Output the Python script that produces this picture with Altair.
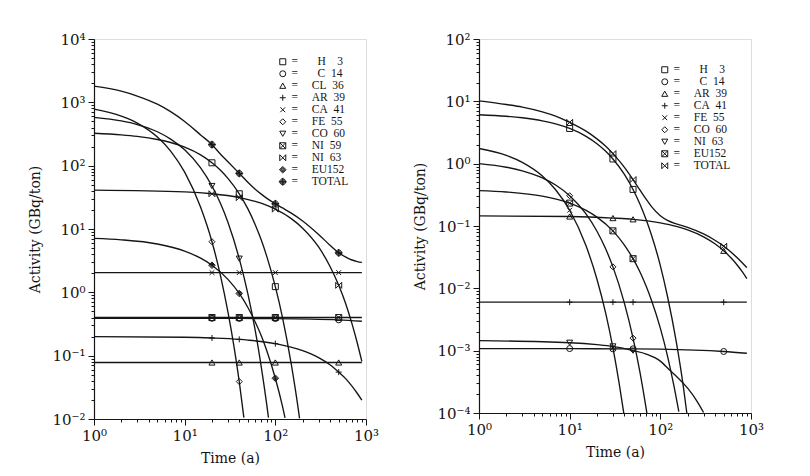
import altair as alt
import pandas as pd

FS = "\u2007"
TS = "\u2009"

# ---------------- shapes ----------------
PLUS = "M-1,0L1,0M0,-1L0,1"
CROSS = "M-0.8,-0.8L0.8,0.8M-0.8,0.8L0.8,-0.8"
BOXX = "M-1,-1L1,-1L1,1L-1,1ZM-1,-1L1,1M-1,1L1,-1"
BOWTIE = "M-1,-1L1,1M-1,1L1,-1M-1,-1L-1,1M1,-1L1,1"
DISC = ("M-1,0A1,1 0 1,0 1,0A1,1 0 1,0 -1,0Z"
        "M-0.7,0A0.7,0.7 0 1,0 0.7,0A0.7,0.7 0 1,0 -0.7,0Z"
        "M-0.4,0A0.4,0.4 0 1,0 0.4,0A0.4,0.4 0 1,0 -0.4,0Z"
        "M-0.12,0L0.12,0M-1.3,0L1.3,0M0,-1.3L0,1.3")
DIAMF = ("M0,-1.1L1.1,0L0,1.1L-1.1,0Z"
         "M0,-0.75L0.75,0L0,0.75L-0.75,0Z"
         "M0,-0.4L0.4,0L0,0.4L-0.4,0Z"
         "M-0.1,0L0.1,0")

# ---------------- left panel data ----------------
L_ELEM = ["H", "C", "CL", "AR", "CA", "FE", "CO", "NI", "NI", "EU152", "TOTAL"]
L_MASS = ["3", "14", "36", "39", "41", "55", "60", "59", "63", "", ""]
L_SHAPE = ["square", "circle", "triangle-up", PLUS, CROSS, "diamond", "triangle-down", BOXX, BOWTIE, DIAMF, DISC]
L_MARK_T = [20, 40, 100, 500]

L_H3_T = [1, 2, 3, 5, 7, 10, 15, 20, 25, 30, 40, 50, 60, 70, 80, 100, 120, 150, 180, 185]
L_H3_V = [325, 307, 290, 259, 232, 196, 148, 111, 84, 63, 36, 20.6, 11.7, 6.7, 3.8, 1.23, 0.40, 0.073, 0.0136, 0.0102]
L_C14_T = [1, 20, 40, 100, 500, 900]
L_C14_V = [0.39, 0.389, 0.387, 0.385, 0.368, 0.35]
L_CL36_T = [1, 20, 40, 100, 500, 900]
L_CL36_V = [0.078, 0.078, 0.078, 0.078, 0.078, 0.078]
L_AR39_T = [1, 10, 20, 40, 50, 100, 200, 300, 400, 500, 600, 700, 800, 900]
L_AR39_V = [0.2, 0.195, 0.19, 0.181, 0.176, 0.155, 0.12, 0.093, 0.072, 0.055, 0.043, 0.033, 0.0255, 0.0198]
L_CA41_T = [1, 20, 40, 100, 500, 900]
L_CA41_V = [2.05, 2.05, 2.05, 2.05, 2.05, 2.05]
L_FE55_T = [1, 2, 3, 5, 7, 10, 15, 20, 25, 30, 35, 40, 45]
L_FE55_V = [780, 605, 470, 283, 170, 79, 22, 6.3, 1.76, 0.49, 0.139, 0.039, 0.0105]
L_CO60_T = [1, 2, 3, 5, 7, 10, 15, 20, 25, 30, 40, 50, 60, 70, 80, 84]
L_CO60_V = [580, 509, 446, 343, 263, 178, 92, 47.7, 24.8, 12.8, 3.4, 0.92, 0.25, 0.066, 0.0178, 0.0105]
L_NI59_T = [1, 20, 40, 100, 500, 900]
L_NI59_V = [0.40, 0.40, 0.40, 0.40, 0.40, 0.40]
L_NI63_T = [1, 10, 20, 40, 60, 100, 150, 200, 300, 400, 500, 600, 700, 800, 900]
L_NI63_V = [41, 38.5, 36, 31.3, 27.2, 20.6, 14.6, 10.3, 5.2, 2.58, 1.29, 0.65, 0.32, 0.16, 0.081]
L_EU152_T = [1, 2, 5, 10, 15, 20, 30, 40, 50, 60, 70, 80, 100, 120, 128]
L_EU152_V = [7.1, 6.75, 5.8, 4.47, 3.46, 2.68, 1.60, 0.96, 0.57, 0.34, 0.206, 0.123, 0.044, 0.0158, 0.0104]
L_TOT_T = [1, 2, 3, 5, 7, 10, 15, 20, 25, 30, 40, 50, 60, 70, 80, 100, 120, 150, 200, 300, 400, 500, 600, 700, 800, 900]
L_TOT_V = [1800, 1500, 1257, 934, 713, 499, 306, 215, 150, 115, 75.5, 54.4, 42.6, 35.5, 30.7, 25.0, 21.5, 17.8, 13.4, 8.2, 5.56, 4.2, 3.59, 3.24, 3.06, 2.97]

L_SERIES = [(L_H3_T, L_H3_V), (L_C14_T, L_C14_V), (L_CL36_T, L_CL36_V), (L_AR39_T, L_AR39_V),
            (L_CA41_T, L_CA41_V), (L_FE55_T, L_FE55_V), (L_CO60_T, L_CO60_V), (L_NI59_T, L_NI59_V),
            (L_NI63_T, L_NI63_V), (L_EU152_T, L_EU152_V), (L_TOT_T, L_TOT_V)]

# ---------------- right panel data ----------------
R_ELEM = ["H", "C", "AR", "CA", "FE", "CO", "NI", "EU152", "TOTAL"]
R_MASS = ["3", "14", "39", "41", "55", "60", "63", "", ""]
R_SHAPE = ["square", "circle", "triangle-up", PLUS, CROSS, "diamond", "triangle-down", BOXX, BOWTIE]
R_MARK_T = [10, 30, 50, 500]

R_H3_T = [1, 2, 3, 5, 7, 10, 15, 20, 25, 30, 40, 50, 60, 70, 80, 100, 120, 150, 180, 196]
R_H3_V = [6.1, 5.77, 5.45, 4.87, 4.35, 3.67, 2.77, 2.09, 1.58, 1.19, 0.68, 0.386, 0.22, 0.125, 0.071, 0.0232, 0.0074, 0.00138, 0.000256, 0.0001]
R_C14_T = [1, 10, 30, 50, 100, 500, 900]
R_C14_V = [0.00108, 0.00108, 0.00107, 0.00107, 0.00106, 0.00097, 0.00091]
R_AR39_T = [1, 10, 30, 50, 100, 150, 200, 300, 400, 500, 600, 700, 800, 900]
R_AR39_V = [0.145, 0.142, 0.134, 0.128, 0.112, 0.0985, 0.0866, 0.067, 0.0518, 0.040, 0.0309, 0.0239, 0.0185, 0.0143]
R_CA41_T = [1, 10, 30, 50, 500, 900]
R_CA41_V = [0.006, 0.006, 0.006, 0.006, 0.006, 0.006]
R_FE55_T = [1, 2, 3, 5, 7, 10, 15, 20, 25, 30, 35, 39.5]
R_FE55_V = [1.75, 1.36, 1.05, 0.634, 0.382, 0.179, 0.050, 0.0140, 0.00396, 0.00111, 0.00031, 0.0001]
R_CO60_T = [1, 2, 3, 5, 7, 10, 15, 20, 25, 30, 40, 50, 60, 70, 71]
R_CO60_V = [1.0, 0.877, 0.769, 0.591, 0.454, 0.306, 0.159, 0.0823, 0.0427, 0.0221, 0.0059, 0.00159, 0.000427, 0.000114, 0.0001]
R_NI63_T = [1, 10, 20, 30, 50, 70, 100, 130, 150, 200, 250, 300]
R_NI63_V = [0.00145, 0.00134, 0.00125, 0.00117, 0.00100, 0.00088, 0.00068, 0.00047, 0.00039, 0.00025, 0.00016, 0.000102]
R_EU152_T = [1, 2, 5, 10, 15, 20, 30, 40, 50, 60, 70, 80, 100, 120, 140, 160]
R_EU152_V = [0.37, 0.351, 0.301, 0.233, 0.180, 0.139, 0.0836, 0.050, 0.0299, 0.0179, 0.0107, 0.0064, 0.0023, 0.00082, 0.00029, 0.000105]
R_TOT_T = [1, 2, 3, 5, 7, 10, 15, 20, 25, 30, 40, 50, 60, 70, 80, 100, 120, 150, 200, 300, 400, 500, 600, 700, 800, 900]
R_TOT_V = [10.2, 8.9, 8.1, 6.8, 5.8, 4.6, 3.35, 2.5, 1.9, 1.45, 0.88, 0.555, 0.372, 0.267, 0.204, 0.146, 0.123, 0.108, 0.095, 0.0745, 0.059, 0.0474, 0.0383, 0.0312, 0.0257, 0.0215]

R_SERIES = [(R_H3_T, R_H3_V), (R_C14_T, R_C14_V), (R_AR39_T, R_AR39_V), (R_CA41_T, R_CA41_V),
            (R_FE55_T, R_FE55_V), (R_CO60_T, R_CO60_V), (R_NI63_T, R_NI63_V), (R_EU152_T, R_EU152_V),
            (R_TOT_T, R_TOT_V)]

# ---------------- axis ticks ----------------
X_DEC = [1, 10, 100, 1000]
X_LAB = ["10\u2070", "10\u00b9", "10\u00b2", "10\u00b3"]
YL_DEC = [0.01, 0.1, 1, 10, 100, 1000, 10000]
YL_LAB = ["10\u207b\u00b2", "10\u207b\u00b9", "10\u2070", "10\u00b9", "10\u00b2", "10\u00b3", "10\u2074"]
YR_DEC = [0.0001, 0.001, 0.01, 0.1, 1, 10, 100]
YR_LAB = ["10\u207b\u2074", "10\u207b\u00b3", "10\u207b\u00b2", "10\u207b\u00b9", "10\u2070", "10\u00b9", "10\u00b2"]

LABEL_FONT = "DejaVu Serif"
TITLE_FONT = "DejaVu Serif"
LEG_FONT = "Liberation Serif"
INK = "#151515"


def legend_label(el, mass):
    if mass == "":
        return "=" + FS * 2 + TS + el
    el_part = (FS if len(el) == 1 else "") + el
    m_part = (FS if len(mass) == 1 else "") + mass
    return "=" + FS * 2 + TS + el_part + FS + m_part


def minor_ticks(decs):
    out = []
    for d in decs[:-1]:
        for m in range(1, 10):
            out.append(d if m == 1 else m * d)
    out.append(decs[-1])
    return out


def label_expr(decs, labs):
    parts = []
    for d, l in zip(decs, labs):
        parts.append(f"abs(datum.value / {d} - 1) < 1e-6 ? '{l}' : ")
    return "".join(parts) + "''"


TICK_TEST = "abs(log(datum.value) / LN10 - round(log(datum.value) / LN10)) < 1e-4"


def make_axis(title, decs, labs, title_pad):
    return alt.Axis(
        title=title, values=minor_ticks(decs), labelExpr=label_expr(decs, labs),
        grid=False, labelOverlap=False, labelFlush=False,
        tickSize={"condition": {"test": TICK_TEST, "value": 6}, "value": 3},
        tickColor=INK, domainColor=INK, tickWidth=1, domainWidth=1.2,
        labelFont=LABEL_FONT, labelFontSize=15, labelColor=INK, labelPadding=3,
        titleFont=TITLE_FONT, titleFontSize=14, titleFontWeight="normal", titleColor=INK,
        titlePadding=title_pad,
    )


def panel(elems, masses, shapes, series, mark_t, ydecs, ylabs, leg_x, leg_y, w, h):
    labels = [legend_label(e, m) for e, m in zip(elems, masses)]
    rows = []
    for lab, (ts, vs) in zip(labels, series):
        for t, v in zip(ts, vs):
            rows.append({"series": lab, "t": t, "v": v, "m": 1 if t in mark_t else 0})
    df = pd.DataFrame(rows)
    xsc = alt.Scale(type="log", domain=[X_DEC[0], X_DEC[-1]], nice=False)
    ysc = alt.Scale(type="log", domain=[ydecs[0], ydecs[-1]], nice=False)
    xenc = alt.X("t:Q", scale=xsc, axis=make_axis("Time (a)", X_DEC, X_LAB, 8))
    yenc = alt.Y("v:Q", scale=ysc, axis=make_axis("Activity (GBq/ton)", ydecs, ylabs, 9))
    lines = alt.Chart(df).mark_line(color=INK, strokeWidth=1.35, interpolate="monotone", clip=True).encode(
        x=xenc, y=yenc, detail="series:N", order="t:Q")
    leg = alt.Legend(title=None, orient="none", legendX=leg_x, legendY=leg_y,
                     labelFont=LEG_FONT, labelFontSize=11.5, labelColor=INK, labelLimit=200,
                     symbolSize=36, symbolStrokeColor=INK, symbolStrokeWidth=1,
                     symbolFillColor="transparent",
                     rowPadding=-1, labelOffset=3, padding=0)
    pts = alt.Chart(df).transform_filter(alt.datum.m == 1).mark_point(
        filled=False, color=INK, strokeWidth=1, opacity=1, size=36, clip=True).encode(
        x=xenc, y=yenc,
        shape=alt.Shape("series:N", scale=alt.Scale(domain=labels, range=shapes), legend=leg),
    )
    return alt.layer(lines, pts).properties(width=w, height=h)


left = panel(L_ELEM, L_MASS, L_SHAPE, L_SERIES, L_MARK_T, YL_DEC, YL_LAB, 183, 17, 272, 380)
right = panel(R_ELEM, R_MASS, R_SHAPE, R_SERIES, R_MARK_T, YR_DEC, YR_LAB, 180, 25, 272, 374)

chart = alt.hconcat(left, right, spacing=33).resolve_scale(
    shape="independent", x="independent", y="independent"
).resolve_legend(shape="independent").properties(
    padding={"left": 28, "top": 31, "right": 5, "bottom": 5}
).configure_view(stroke=None).configure(background="white")

chart.save("out.html", embed_options={"renderer": "svg", "actions": False})
